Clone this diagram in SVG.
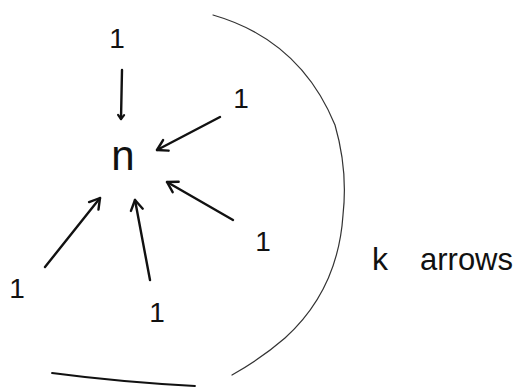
<svg xmlns="http://www.w3.org/2000/svg" width="519" height="387" viewBox="0 0 519 387">
<defs>
<style>
.lbl{font-family:"Liberation Sans",Arial,sans-serif;fill:#111}
.one{font-size:28px}
.edge{stroke:#111;stroke-width:2.4;fill:none;stroke-linecap:round}
.brace{stroke:#333;stroke-width:1.2;fill:none;stroke-linecap:round}
</style>
<marker id="ah" markerUnits="userSpaceOnUse" markerWidth="20" markerHeight="20" refX="0" refY="0" viewBox="-12 -10 14 20" orient="auto">
<path d="M-10,-6 L0,0 L-10,6" fill="none" stroke="#111" stroke-width="2.4" stroke-linecap="round" stroke-linejoin="round"/>
</marker>
<marker id="ahs" markerUnits="userSpaceOnUse" markerWidth="12" markerHeight="12" refX="0" refY="0" viewBox="-6 -6 8 12" orient="auto">
<path d="M-4,-3 L0,0 L-4,3" fill="none" stroke="#111" stroke-width="2.2" stroke-linecap="round" stroke-linejoin="round"/>
</marker>
</defs>
<rect width="519" height="387" fill="#fff"/>
<g id="connectors">
<path class="edge" d="M122,70 L121,119" marker-end="url(#ahs)"/>
<path class="edge" d="M220,117 L157,150" marker-end="url(#ah)"/>
<path class="edge" d="M233,220 L167,182" marker-end="url(#ah)"/>
<path class="edge" d="M45,267 L100,198" marker-end="url(#ah)"/>
<path class="edge" d="M150,280 L135,200" marker-end="url(#ah)"/>
</g>
<g id="node-center"><text class="lbl" x="123" y="170" font-size="42" text-anchor="middle">n</text></g>
<g id="node-top"><text class="lbl one" x="117" y="48" text-anchor="middle">1</text></g>
<g id="node-upper-right"><text class="lbl one" x="241" y="108" text-anchor="middle">1</text></g>
<g id="node-right"><text class="lbl one" x="263" y="251" text-anchor="middle">1</text></g>
<g id="node-left"><text class="lbl one" x="17" y="298" text-anchor="middle">1</text></g>
<g id="node-bottom"><text class="lbl one" x="157" y="322" text-anchor="middle">1</text></g>
<g id="brace">
<path class="brace" d="M213,15 Q300,40 335,125 Q348,170 343,215 Q338,290 285,338 Q262,358 232,375"/>
<path class="edge" style="stroke-width:1.8" d="M52,373 Q120,382 195,386"/>
</g>
<g id="label-k-arrows"><text class="lbl" y="270" font-size="32"><tspan x="372">k</tspan><tspan x="420" textLength="93" lengthAdjust="spacingAndGlyphs">arrows</tspan></text></g>
</svg>
